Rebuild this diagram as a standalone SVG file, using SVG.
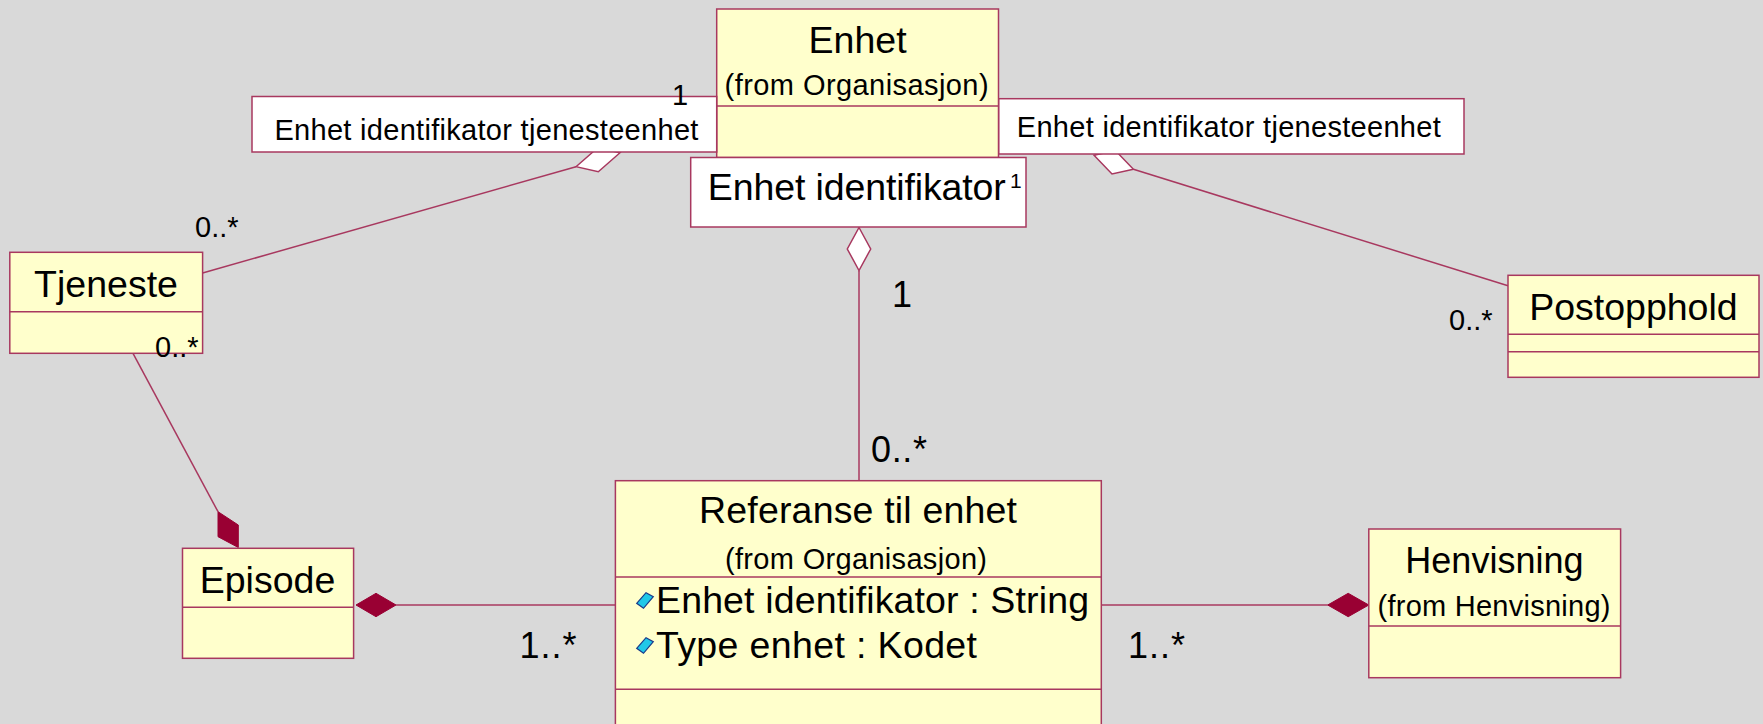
<svg xmlns="http://www.w3.org/2000/svg" width="1763" height="724" viewBox="0 0 1763 724">
<style>
.bg{fill:#d9d9d9}
.cls{fill:#ffffcc;stroke:#a8385f;stroke-width:1.5}
.lbl{fill:#ffffff;stroke:#a8385f;stroke-width:1.5}
.div{stroke:#a8385f;stroke-width:1.5;fill:none}
.ln{stroke:#a8385f;stroke-width:1.5;fill:none}
.hd{fill:#ffffff;stroke:#a8385f;stroke-width:1.5}
.fd{fill:#990033;stroke:#990033;stroke-width:1}
text{font-family:"Liberation Sans",Arial,sans-serif;fill:#000}
.nm{font-size:37.5px;text-anchor:middle}
.fr{font-size:29px;text-anchor:middle}
.at{font-size:37.5px}
.rl{font-size:29px}
.m{font-size:29px}
.mb{font-size:36px}
.ic{fill:#20c8e8;stroke:#1a3a8a;stroke-width:1.2}
</style>
<rect class="bg" x="0" y="0" width="1763" height="724"/>

<g id="connectors">
  <line class="ln" x1="202.6" y1="273" x2="576" y2="166.7"/>
  <polygon class="hd" points="576,166.7 597.7,147.7 620,152.7 598.3,171.7"/>
  <line class="ln" x1="1508" y1="285.7" x2="1133.4" y2="169.3"/>
  <polygon class="hd" points="1133.4,169.3 1112,174 1094,155.3 1115.4,150.6"/>
  <line class="ln" x1="859" y1="270.5" x2="859" y2="480.7"/>
  <polygon class="hd" points="859,227.5 870.7,249 859,270.5 847.3,249"/>
  <line class="ln" x1="133" y1="353.3" x2="218" y2="511.7"/>
  <polygon class="fd" points="218,511.7 238.3,525 238.3,547.5 218,536.7"/>
  <line class="ln" x1="396" y1="605" x2="615.4" y2="605"/>
  <polygon class="fd" points="356,605 376,593.3 396,605 376,616.7"/>
  <line class="ln" x1="1101.3" y1="605" x2="1327.7" y2="605"/>
  <polygon class="fd" points="1327.7,605 1348.2,593.3 1368.8,605 1348.2,616.7"/>
</g>

<g id="enhet">
  <rect class="cls" x="716.7" y="9" width="281.8" height="148.5"/>
  <line class="div" x1="716.7" y1="106" x2="998.5" y2="106"/>
  <text class="nm" x="857.6" y="53">Enhet</text>
  <text class="fr" x="856.6" y="95" textLength="264" lengthAdjust="spacing">(from Organisasjon)</text>
</g>

<g id="role-left">
  <rect class="lbl" x="252" y="96.5" width="464.7" height="55.5"/>
  <text class="rl" x="274.4" y="140" textLength="424" lengthAdjust="spacing">Enhet identifikator tjenesteenhet</text>
</g>

<g id="role-right">
  <rect class="lbl" x="998.8" y="98.7" width="465.2" height="55.3"/>
  <text class="rl" x="1016.8" y="136.7" textLength="424" lengthAdjust="spacing">Enhet identifikator tjenesteenhet</text>
</g>

<g id="enhet-identifikator">
  <rect class="lbl" x="690.7" y="157.5" width="335.3" height="69.5"/>
  <text class="at" x="707.8" y="200" textLength="298" lengthAdjust="spacing">Enhet identifikator</text>
  <text x="1010" y="188.3" style="font-size:21px">1</text>
</g>

<g id="tjeneste">
  <rect class="cls" x="9.8" y="252.3" width="192.8" height="101"/>
  <line class="div" x1="9.8" y1="311.7" x2="202.6" y2="311.7"/>
  <text class="nm" x="106" y="296.7">Tjeneste</text>
</g>

<g id="postopphold">
  <rect class="cls" x="1508" y="275.3" width="251" height="102"/>
  <line class="div" x1="1508" y1="334.3" x2="1759" y2="334.3"/>
  <line class="div" x1="1508" y1="351.7" x2="1759" y2="351.7"/>
  <text class="nm" x="1633.4" y="320">Postopphold</text>
</g>

<g id="episode">
  <rect class="cls" x="182.5" y="548.3" width="171.1" height="110"/>
  <line class="div" x1="182.5" y1="607.3" x2="353.6" y2="607.3"/>
  <text class="nm" x="267.5" y="593.3">Episode</text>
</g>

<g id="referanse-til-enhet">
  <rect class="cls" x="615.4" y="480.7" width="485.9" height="260"/>
  <line class="div" x1="615.4" y1="577" x2="1101.3" y2="577"/>
  <line class="div" x1="615.4" y1="689.3" x2="1101.3" y2="689.3"/>
  <text class="nm" x="858" y="523.3" textLength="318" lengthAdjust="spacing">Referanse til enhet</text>
  <text class="fr" x="856" y="569" textLength="262" lengthAdjust="spacing">(from Organisasjon)</text>
  <polygon class="ic" points="636.7,603.3 646,592.7 653.3,596.7 643.5,608.3"/>
  <text class="at" x="656" y="613.3" textLength="433" lengthAdjust="spacing">Enhet identifikator : String</text>
  <polygon class="ic" points="636.7,648.3 646,637.7 653.3,641.7 643.5,653.3"/>
  <text class="at" x="656" y="658.3" textLength="321" lengthAdjust="spacing">Type enhet : Kodet</text>
</g>

<g id="henvisning">
  <rect class="cls" x="1368.8" y="529" width="251.8" height="148.7"/>
  <line class="div" x1="1368.8" y1="626" x2="1620.6" y2="626"/>
  <text class="nm" x="1494.4" y="573.3" style="font-size:36px">Henvisning</text>
  <text class="fr" x="1494" y="616" textLength="233" lengthAdjust="spacing">(from Henvisning)</text>
</g>

<g id="multiplicities">
  <text class="m" x="195" y="237">0..*</text>
  <text class="m" x="155" y="357">0..*</text>
  <text class="m" x="1449" y="330">0..*</text>
  <text class="m" x="672" y="105">1</text>
  <text class="mb" x="892" y="306.7">1</text>
  <text class="mb" x="871" y="461.7" textLength="56" lengthAdjust="spacing">0..*</text>
  <text class="mb" x="519.5" y="657.5" textLength="57" lengthAdjust="spacing">1..*</text>
  <text class="mb" x="1128" y="657.5" textLength="57" lengthAdjust="spacing">1..*</text>
</g>
</svg>
